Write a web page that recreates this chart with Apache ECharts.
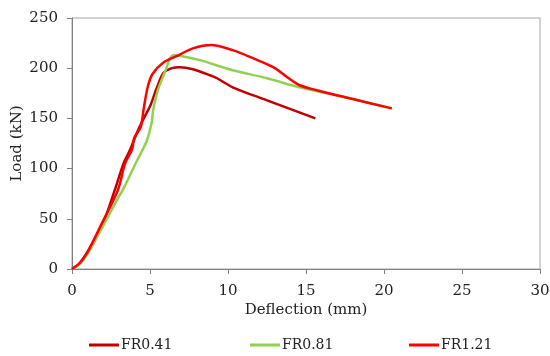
<!DOCTYPE html>
<html>
<head>
<meta charset="utf-8">
<script src="https://cdn.jsdelivr.net/npm/echarts@6/dist/echarts.min.js"></script>
<style>
  html, body { margin: 0; padding: 0; background: #fff; }
  #chart { width: 550px; height: 356px; }
</style>
</head>
<body>
<div id="chart"></div>
<script>
// deflection (mm), load (kN) pairs
const fr041 = [
  [0, 0], [0.5, 6], [1, 17], [2, 46], [2.75, 79], [3.3, 105], [3.7, 118],
  [4.2, 137], [4.6, 150], [5, 162], [5.45, 181], [5.85, 195], [6.4, 200],
  [6.9, 201], [7.75, 199], [8.85, 193], [9.3, 190], [10.3, 181], [12.5, 168], [15.6, 150]
];
const fr081 = [
  [0, 0], [0.5, 5], [1, 15], [2, 43], [3, 72], [3.3, 80], [4.2, 109], [4.5, 118],
  [4.8, 128], [5.1, 145], [5.2, 158], [5.5, 178], [6, 198], [6.3, 210], [6.5, 213],
  [7.05, 212], [8.2, 208], [10.3, 198], [12.5, 190], [14.6, 181], [17.8, 170], [20.5, 160]
];
const fr121 = [
  [0, 0], [0.5, 6], [1, 17], [1.9, 45], [2.95, 79], [3.4, 105], [3.85, 119],
  [4.0, 131], [4.4, 141], [4.6, 160], [4.85, 181], [5.15, 194], [5.8, 205], [6.7, 212],
  [7.8, 220], [8.9, 223], [10.3, 218], [11.6, 210], [12.9, 201], [13.8, 191],
  [14.6, 183], [15.7, 178], [17.8, 170], [20.5, 160]
];
const seriesNames = ['FR0.41', 'FR0.81', 'FR1.21'];
const seriesColors = ['#c00000', '#92d050', '#ff0000'];

const font = 'DejaVu Serif';
const chart = echarts.init(document.getElementById('chart'));

// one legend per series, spread across the bottom like the original
const legendLeft = [89, 250, 409];
const legends = seriesNames.map((name, i) => ({
  data: [name],
  left: legendLeft[i],
  top: 338,
  padding: 0,
  icon: 'rect',
  itemWidth: 30,
  itemHeight: 3,
  textStyle: { fontFamily: font, fontSize: 14, color: '#222', padding: [0, 0, 0, -3] }
}));

chart.setOption({
  animation: false,
  legend: legends,
  grid: {
    left: 72, right: 10, top: 18, bottom: 87,
    outerBoundsMode: 'none',
    show: true, borderColor: '#a6a6a6', borderWidth: 1
  },
  xAxis: {
    type: 'value',
    min: 0, max: 30, interval: 5,
    name: 'Deflection (mm)',
    nameLocation: 'middle',
    nameGap: 34,
    nameMoveOverlap: false,
    nameTextStyle: { fontFamily: font, fontSize: 15, color: '#222' },
    axisLine: { lineStyle: { color: '#808080', width: 1 } },
    axisTick: { show: true, length: 5, lineStyle: { color: '#808080' } },
    axisLabel: { fontFamily: font, fontSize: 15, color: '#222', margin: 15 },
    splitLine: { show: false }
  },
  yAxis: {
    type: 'value',
    min: 0, max: 250, interval: 50,
    name: 'Load (kN)',
    nameLocation: 'middle',
    nameGap: 47,
    nameMoveOverlap: false,
    nameTextStyle: { fontFamily: font, fontSize: 15, color: '#222' },
    axisLine: { show: true, lineStyle: { color: '#808080', width: 1 } },
    axisTick: { show: true, length: 5, lineStyle: { color: '#808080' } },
    axisLabel: { fontFamily: font, fontSize: 15, color: '#222', margin: 14 },
    splitLine: { show: false }
  },
  series: [fr041, fr081, fr121].map((data, i) => ({
    name: seriesNames[i],
    type: 'line',
    data: data,
    smooth: 0.3,
    showSymbol: false,
    color: seriesColors[i],
    lineStyle: { width: 2.5, color: seriesColors[i] },
    z: i + 2
  }))
});
</script>
</body>
</html>
